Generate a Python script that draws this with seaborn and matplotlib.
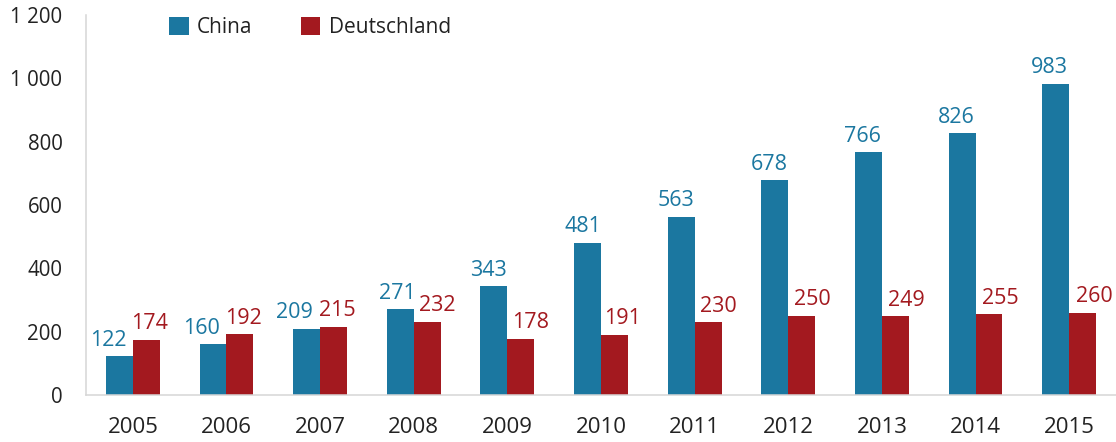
import numpy as np
import pandas as pd
import matplotlib
matplotlib.use("Agg")
import matplotlib.pyplot as plt
import seaborn as sns

# ---- data ----
years = ["2005", "2006", "2007", "2008", "2009", "2010", "2011", "2012", "2013", "2014", "2015"]
china = [122, 160, 209, 271, 343, 481, 563, 678, 766, 826, 983]
deutschland = [174, 192, 215, 232, 178, 191, 230, 250, 249, 255, 260]
series_names = ["China", "Deutschland"]
y_tick_values = [0, 200, 400, 600, 800, 1000, 1200]
y_tick_labels = ["0", "200", "400", "600", "800", "1 000", "1 200"]

# label nudges (pixels) to mimic the reference placement
china_dx = [-11, -12, -12, -3, -5, -5, -5, -6, -6, -6, -6]
de_dx = [3, 3.5, 3.5, 10, 10, 8, 10, 11, 11, 11, 12]

BLUE = "#1b77a0"
RED = "#a3191f"
TEXT = "#222222"
GRID = "#d6d6d6"

df = pd.DataFrame({
    "Jahr": years * 2,
    "Wert": china + deutschland,
    "Land": [series_names[0]] * len(years) + [series_names[1]] * len(years),
})

sns.set_style("white")
plt.rcParams["font.family"] = ["Open Sans", "DejaVu Sans"]

W, H = 1116, 442
fig = plt.figure(figsize=(W / 100, H / 100), dpi=100)
ax = fig.add_axes([86 / W, 1 - 395 / H, (W - 86) / W, (395 - 15) / H])

sns.barplot(data=df, x="Jahr", y="Wert", hue="Land", palette=[BLUE, RED],
            width=0.575, saturation=1, linewidth=0, edgecolor="none",
            ax=ax, legend=True)

ax.set_xlim(-0.5, 10.47)
ax.set_ylim(0, 1200)
ax.set_xlabel("")
ax.set_ylabel("")

# value labels
px2pt = 0.72
for cont, dxs, col in zip(ax.containers, [china_dx, de_dx], [BLUE, RED]):
    for bar, dx in zip(cont, dxs):
        h = bar.get_height()
        ax.annotate(f"{int(round(h))}", (bar.get_x() + bar.get_width() / 2, h),
                    xytext=(dx * px2pt, 7.5), textcoords="offset points",
                    ha="center", va="baseline", color=col, fontsize=15.5,
                    fontweight="medium")

# y axis ticks: labels at 200 steps, tick marks at 150 steps
ax.set_yticks(y_tick_values)
ax.set_yticklabels(y_tick_labels, fontweight="medium")
ax.set_yticks(np.arange(0, 1201, 150), minor=True)
ax.tick_params(axis="y", which="major", length=0, pad=17, labelsize=14.8, labelcolor=TEXT)
ax.tick_params(axis="y", which="minor", length=8.6, width=1.1, color=GRID, direction="out")

# x axis: labels centered, tick marks at category boundaries
ax.set_xticks(np.arange(-0.5, len(years), 1.0), minor=True)
for t in ax.get_xticklabels():
    t.set_fontweight("medium")
ax.tick_params(axis="x", which="major", length=0, pad=16, labelsize=16, labelcolor=TEXT)
ax.tick_params(axis="x", which="minor", length=8.6, width=1.1, color=GRID, direction="out")

for s in ["top", "right"]:
    ax.spines[s].set_visible(False)
for s in ["left", "bottom"]:
    ax.spines[s].set_color(GRID)
    ax.spines[s].set_linewidth(1.1)

handles, labels = ax.get_legend_handles_labels()
leg = ax.legend(handles, labels, ncol=2, frameon=False, loc="upper left",
                bbox_to_anchor=(169 / W, 1 - 17 / H), bbox_transform=fig.transFigure,
                borderpad=0, borderaxespad=0, handlelength=0.95, handleheight=0.95,
                handletextpad=0.4, columnspacing=2.3, labelcolor=TEXT,
                prop={"size": 15, "weight": "medium"})

fig.savefig("out.png", dpi=100)
